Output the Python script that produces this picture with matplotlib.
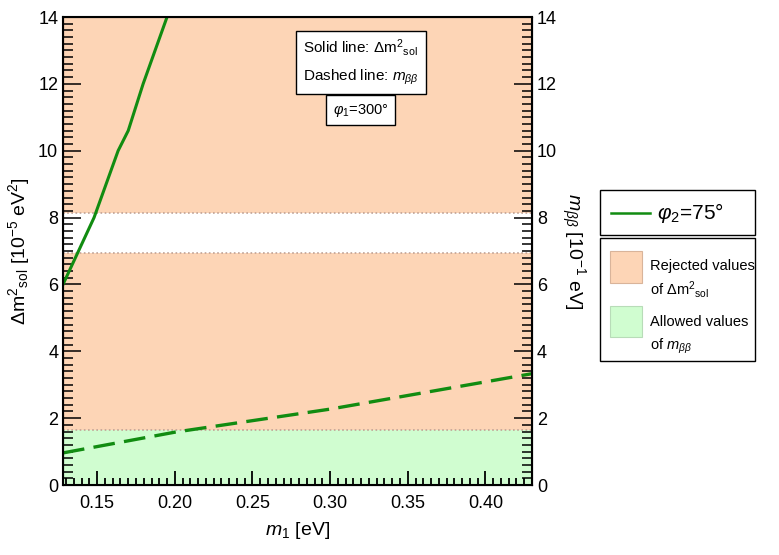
import matplotlib
matplotlib.use("Agg")
import matplotlib.pyplot as plt
from matplotlib.patches import Rectangle
from matplotlib.lines import Line2D
from matplotlib.ticker import MultipleLocator

plt.rcParams["font.family"] = ["Liberation Sans", "DejaVu Sans"]
plt.rcParams["mathtext.fontset"] = "custom"
plt.rcParams["mathtext.rm"] = "Liberation Sans"
plt.rcParams["mathtext.it"] = "Liberation Sans:italic"

# --- data ---
x_min, x_max = 0.128, 0.43
y_max = 14
# solid: delta m^2_sol vs m1
m1_sol = [0.128, 0.148, 0.1635, 0.170, 0.1796, 0.195]
dm2_sol = [6.0, 8.0, 10.0, 10.6, 12.0, 14.0]
# dashed: m_bb vs m1
m1_bb = [0.128, 0.20, 0.30, 0.43]
m_bb = [0.96, 1.58, 2.27, 3.33]
# bands
rejected_bands = [(1.65, 6.93), (8.15, 14.0)]
allowed_band = (0.0, 1.65)
band_edges = [1.65, 6.93, 8.15]

orange = "#fdd5b6"
green_fill = "#d0fdd0"
line_green = "#118c11"
dot_col = "#c0a295"

W, H = 779, 555
fig = plt.figure(figsize=(W / 100, H / 100), dpi=100)
ax = fig.add_axes([63 / W, 1 - 485 / H, 469 / W, 468 / H])

for lo, hi in rejected_bands:
    ax.axhspan(lo, hi, color=orange, lw=0, zorder=0)
ax.axhspan(*allowed_band, color=green_fill, lw=0, zorder=0)
for yb in band_edges:
    ax.axhline(yb, color=dot_col, ls=(0, (1, 1.5)), lw=1.2, zorder=1)

ax.plot(m1_sol, dm2_sol, color=line_green, lw=2.2, zorder=3)
ax.plot(m1_bb, m_bb, color=line_green, lw=2.4, ls=(0, (6.5, 2.8)), zorder=3)

ax.set_xlim(x_min, x_max)
ax.set_ylim(0, y_max)
ax.xaxis.set_major_locator(MultipleLocator(0.05))
ax.xaxis.set_minor_locator(MultipleLocator(0.005))
ax.yaxis.set_major_locator(MultipleLocator(2))
ax.yaxis.set_minor_locator(MultipleLocator(0.2))
ax.xaxis.set_major_formatter(plt.FuncFormatter(lambda v, _: f"{v:.2f}"))
ax.tick_params(axis="x", which="both", direction="in", bottom=True, top=False,
               labelsize=13, width=1.3, pad=7, color="black")
ax.tick_params(axis="x", which="major", length=10)
ax.tick_params(axis="x", which="minor", length=5)
ax.tick_params(axis="y", which="both", direction="in", left=True, right=False,
               labelsize=13, width=1.1)
ax.tick_params(axis="y", which="major", length=13)
ax.tick_params(axis="y", which="minor", length=7)
for s in ax.spines.values():
    s.set_linewidth(1.5)
    s.set_zorder(5)

ax.set_xlabel(r"$m_1$ [eV]", fontsize=14, labelpad=6)
ax.set_ylabel(r"$\Delta$m$^{2}$$_{\rm sol}$ [10$^{-5}$ eV$^{2}$]", fontsize=14)

ax2 = ax.twinx()
ax2.set_ylim(0, y_max)
ax2.yaxis.set_major_locator(MultipleLocator(2))
ax2.yaxis.set_minor_locator(MultipleLocator(0.2))
ax2.tick_params(axis="y", which="both", direction="in", labelsize=13, width=1.1)
ax2.tick_params(axis="y", which="major", length=13)
ax2.tick_params(axis="y", which="minor", length=7)
ax2.set_ylabel(r"$m_{\beta\beta}$ [10$^{-1}$ eV]", fontsize=14,
               rotation=-90, labelpad=22)

box = dict(boxstyle="square,pad=0.45", fc="white", ec="black", lw=1)
ax.text(0.635, 0.904,
        "Solid line: $\\Delta$m$^{2}$$_{\\rm sol}$\nDashed line: $m_{\\beta\\beta}$",
        transform=ax.transAxes, ha="center", va="center", fontsize=11,
        linespacing=1.8, bbox=box)
ax.text(0.635, 0.801, r"$\varphi_1$=300°", transform=ax.transAxes,
        ha="center", va="center", fontsize=10.5, bbox=box)


# --- legend boxes drawn in figure pixel coordinates ---
def fx(px):
    return px / W


def fy(py):
    return 1 - py / H


def frame(x0, y0, x1, y1):
    fig.add_artist(Rectangle((fx(x0), fy(y1)), fx(x1 - x0), (y1 - y0) / H,
                             transform=fig.transFigure, fc="white",
                             ec="black", lw=1))


frame(600, 190, 755, 235)
fig.add_artist(Line2D([fx(611), fx(650)], [fy(213), fy(213)],
                      transform=fig.transFigure, color=line_green, lw=1.8))
fig.text(fx(657), fy(213), r"$\varphi_2$=75°", fontsize=15,
         ha="left", va="center")

frame(600, 238, 755, 361)
fig.add_artist(Rectangle((fx(610), fy(283)), fx(32), 32 / H,
                         transform=fig.transFigure, fc=orange, ec="#d9b49a",
                         lw=0.8))
fig.add_artist(Rectangle((fx(610), fy(337)), fx(32), 31 / H,
                         transform=fig.transFigure, fc=green_fill,
                         ec="#b8dcb8", lw=0.8))
fig.text(fx(650), fy(266), "Rejected values", fontsize=10.5, va="center")
fig.text(fx(650), fy(290), "of $\\Delta$m$^{2}$$_{\\rm sol}$", fontsize=10.5,
         va="center")
fig.text(fx(650), fy(322), "Allowed values", fontsize=10.5, va="center")
fig.text(fx(650), fy(346), "of $m_{\\beta\\beta}$", fontsize=10.5,
         va="center")

plt.savefig("out.png", dpi=100)
plt.close()
